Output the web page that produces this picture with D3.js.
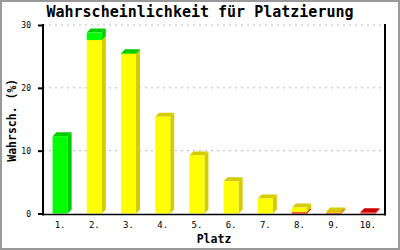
<!DOCTYPE html>
<html>
<head>
<meta charset="utf-8">
<script src="https://cdnjs.cloudflare.com/ajax/libs/d3/7.8.5/d3.min.js"></script>
<style>
  body { margin: 0; background: #fff; }
  svg text { font-family: "DejaVu Sans Mono", monospace; fill: #000; }
</style>
</head>
<body>
<div id="chart"></div>
<script>
// data (percent per place, stacked red / yellow / green)
var places = ["1.", "2.", "3.", "4.", "5.", "6.", "7.", "8.", "9.", "10."];
var redPart = [0, 0, 0, 0, 0, 0, 0, 0.2, 0.12, 0.18];
var yellowPart = [0, 27.6, 25.4, 15.4, 9.25, 5.13, 2.38, 0.75, 0.2, 0];
var greenPart = [12.3, 1.2, 0.1, 0, 0, 0, 0, 0, 0, 0];
var yTicks = [0, 10, 20, 30];

var width = 400, height = 250;
var plotLeft = 43, plotRight = 385, plotTop = 25, plotBottom = 213.5;
var depth = 4;

var svg = d3.select("#chart").append("svg")
  .attr("width", width).attr("height", height);

// frame
svg.append("rect")
  .attr("x", 1).attr("y", 1)
  .attr("width", width - 2).attr("height", height - 2)
  .attr("fill", "#fff").attr("stroke", "#999").attr("stroke-width", 2);

var x = d3.scaleBand().domain(places).range([plotLeft, plotRight]).paddingInner(0.56).paddingOuter(0.28);
var y = d3.scaleLinear().domain([0, 30]).range([plotBottom, plotTop]);

// dashed grid
svg.append("g")
  .selectAll("line").data(yTicks.filter(function(d){ return d > 0; })).enter()
  .append("line")
  .attr("x1", plotLeft).attr("x2", plotRight)
  .attr("y1", function(d){ return y(d); }).attr("y2", function(d){ return y(d); })
  .attr("stroke", "#bbb").attr("stroke-dasharray", "2,4");

var series = [
  { key: "red", values: redPart, front: "#ff0000", shade: "#cc0000" },
  { key: "yellow", values: yellowPart, front: "#ffff00", shade: "#d4cc00" },
  { key: "green", values: greenPart, front: "#00ff00", shade: "#00cc00" }
];

var bars = svg.append("g");
places.forEach(function(p, i){
  var base = 0;
  var bx = x(p), bw = x.bandwidth();
  series.forEach(function(s){
    var v = s.values[i];
    if (v <= 0) return;
    var y0 = y(base), y1 = y(base + v);
    base += v;
    var g = bars.append("g");
    // side
    g.append("path")
      .attr("d", "M" + (bx + bw) + "," + y1 + "L" + (bx + bw + depth) + "," + (y1 - depth) +
        "L" + (bx + bw + depth) + "," + (y0 - depth) + "L" + (bx + bw) + "," + y0 + "Z")
      .attr("fill", s.shade);
    // top
    g.append("path")
      .attr("d", "M" + bx + "," + y1 + "L" + (bx + depth) + "," + (y1 - depth) +
        "L" + (bx + bw + depth) + "," + (y1 - depth) + "L" + (bx + bw) + "," + y1 + "Z")
      .attr("fill", s.shade);
    // front
    g.append("rect")
      .attr("x", bx).attr("y", y1)
      .attr("width", bw).attr("height", Math.max(0.5, y0 - y1))
      .attr("fill", s.front);
  });
});

// axes
var yAxis = svg.append("g")
  .attr("transform", "translate(" + plotLeft + ",0)")
  .call(d3.axisLeft(y).tickValues(yTicks).tickSize(5).tickPadding(7));
yAxis.select(".domain").attr("stroke-width", 2).attr("d", "M0," + (plotTop - 1) + "V" + (plotBottom + 2));
yAxis.selectAll(".tick line").attr("stroke-width", 2);
yAxis.selectAll("text").style("font-size", "8px").style("font-family", "DejaVu Sans Mono");

var xAxis = svg.append("g")
  .attr("transform", "translate(0," + (plotBottom + 1) + ")")
  .call(d3.axisBottom(x).tickSize(0).tickPadding(7));
xAxis.select(".domain").attr("stroke-width", 1.5).attr("d", "M" + plotLeft + ",0H" + plotRight);
xAxis.selectAll("text").style("font-size", "9px").style("font-family", "DejaVu Sans Mono");

// right border line
svg.append("line")
  .attr("x1", plotRight).attr("x2", plotRight).attr("y1", plotTop - 1).attr("y2", plotBottom + 2)
  .attr("stroke", "#000").attr("stroke-width", 2);

// titles
svg.append("text")
  .attr("x", 200).attr("y", 17)
  .attr("text-anchor", "middle")
  .style("font-size", "15px").style("font-weight", "bold")
  .text("Wahrscheinlichkeit für Platzierung");

svg.append("text")
  .attr("x", (plotLeft + plotRight) / 2).attr("y", 243)
  .attr("text-anchor", "middle")
  .style("font-size", "11.5px").style("font-weight", "bold")
  .text("Platz");

svg.append("text")
  .attr("transform", "translate(16," + ((plotTop + plotBottom) / 2 + 1) + ") rotate(-90)")
  .attr("text-anchor", "middle")
  .style("font-size", "11.5px").style("font-weight", "bold")
  .text("Wahrsch. (%)");
</script>
</body>
</html>
